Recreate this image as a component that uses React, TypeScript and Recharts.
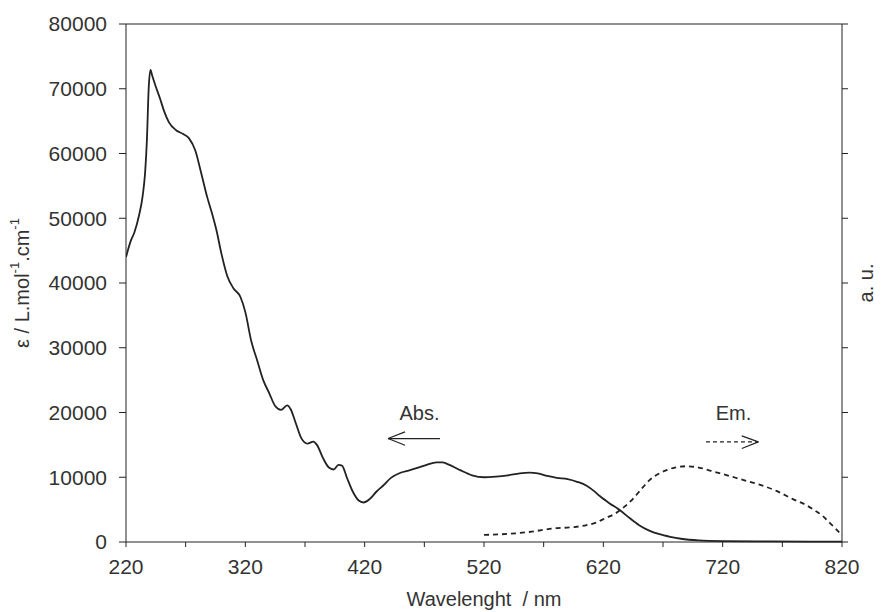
import React from 'react';
import { LineChart, Line, XAxis, YAxis, ReferenceLine, ReferenceDot } from 'recharts';

// Absorption spectrum (wavelength nm, epsilon L/mol/cm)
const absWavelengths = [
  220, 224, 227, 231, 234, 236, 237.5, 239, 240.5, 242, 245, 248.5, 252, 256, 262, 268, 273, 278,
  283, 288, 292, 296, 300, 305, 310, 316, 320, 325, 330, 335, 340, 345, 350, 355, 358, 362, 367,
  372, 377, 380, 385, 390, 394, 398, 401, 405, 410, 415, 419, 424, 430, 436, 442, 450, 458, 465,
  472, 480, 485, 490, 500, 510, 520, 530, 540, 550, 558, 565, 573, 581, 590, 598, 606, 612, 617,
  625, 634, 642, 650, 658, 667, 676, 685, 700, 720, 760, 820,
];
const absValues = [
  44000, 46500, 47800, 50500, 53500, 57000, 62000, 70000, 72900, 72000, 70300, 68500, 66500, 64800,
  63600, 63000, 62300, 60500, 57000, 53300, 50800, 48000, 44500, 41000, 39200, 37800, 35500, 31000,
  28000, 25000, 23000, 21000, 20400, 21100, 20500, 18500, 16000, 15200, 15500, 15000, 13000, 11500,
  11200, 11900, 11800, 10000, 7800, 6400, 6100, 6600, 7800, 8800, 9900, 10700, 11100, 11500, 11900,
  12300, 12300, 12000, 11100, 10300, 10000, 10100, 10300, 10600, 10700, 10600, 10200, 9900, 9700,
  9300, 8700, 7900, 7100, 6000, 4900, 3700, 2600, 1800, 1200, 800, 500, 250, 150, 100, 50,
];

// Emission spectrum (arbitrary units, drawn on the right axis)
const emWavelengths = [
  520, 540, 560, 578, 595, 606, 614, 622, 630, 638, 645, 652, 659, 666, 673, 680, 690, 700, 710,
  720, 735, 750, 765, 778, 790, 797, 804, 810, 815, 820,
];
const emValues = [
  1100, 1250, 1600, 2100, 2300, 2600, 3000, 3700, 4400, 5500, 6700, 8200, 9600, 10500, 11100,
  11500, 11700, 11500, 11000, 10500, 9700, 8900, 7900, 6700, 5700, 4900, 4000, 2900, 2000, 1000,
];

const xTicks = [220, 270, 320, 370, 420, 470, 520, 570, 620, 670, 720, 770, 820];
const xTickLabels = ['220', '320', '420', '520', '620', '720', '820'];
const yTicks = [0, 10000, 20000, 30000, 40000, 50000, 60000, 70000, 80000];

const absData = absWavelengths.map((x, i) => ({ x, y: absValues[i] }));
const emData = emWavelengths.map((x, i) => ({ x, y: emValues[i] }));

const INK = '#222';
const TEXT = '#333';
const FONT = 'Arial, "Liberation Sans", Helvetica, sans-serif';
const FS = 21;
const TFS = 20;

const YLeftLabel = (props: any) => {
  const vb = props.viewBox || {};
  const cx = 22;
  const cy = vb.y + vb.height / 2;
  return (
    <text
      x={cx}
      y={cy}
      transform={`rotate(-90, ${cx}, ${cy})`}
      textAnchor="middle"
      dominantBaseline="central"
      fontSize={TFS}
      fontFamily={FONT}
      fill={TEXT}
    >
      <tspan>ε / L.mol</tspan>
      <tspan dy={-8} fontSize={13}>-1</tspan>
      <tspan dy={8}>.cm</tspan>
      <tspan dy={-8} fontSize={13}>-1</tspan>
    </text>
  );
};

const YRightLabel = (props: any) => {
  const vb = props.viewBox || {};
  const cx = 866;
  const cy = vb.y + vb.height / 2;
  return (
    <text
      x={cx}
      y={cy}
      transform={`rotate(-90, ${cx}, ${cy})`}
      textAnchor="middle"
      dominantBaseline="central"
      fontSize={TFS}
      fontFamily={FONT}
      fill={TEXT}
    >
      a. u.
    </text>
  );
};

const XLabel = (props: any) => {
  const vb = props.viewBox || {};
  return (
    <text
      x={vb.x + vb.width / 2}
      y={606}
      textAnchor="middle"
      fontSize={TFS}
      fontFamily={FONT}
      fill={TEXT}
      style={{ whiteSpace: 'pre' }}
    >
      {'Wavelenght  / nm'}
    </text>
  );
};

export default function App() {
  return (
    <div style={{ position: 'absolute', left: 0, top: 0, background: '#fff' }}>
      <LineChart width={881} height={612} margin={{ top: 24, right: 0, bottom: 0, left: 0 }}>
        <XAxis
          dataKey="x"
          type="number"
          domain={[220, 820]}
          ticks={xTicks}
          allowDataOverflow
          height={70}
          tickSize={5}
          tickMargin={12}
          stroke={INK}
          tick={{ fill: TEXT, fontSize: FS, fontFamily: FONT }}
          tickFormatter={(v: number) => (xTickLabels.includes(String(v)) ? String(v) : '')}
          label={<XLabel />}
        />
        <YAxis
          yAxisId="left"
          type="number"
          domain={[0, 80000]}
          ticks={yTicks}
          width={126}
          tickSize={7}
          tickMargin={12}
          stroke={INK}
          tick={{ fill: TEXT, fontSize: FS, fontFamily: FONT }}
          label={<YLeftLabel />}
        />
        <YAxis
          yAxisId="right"
          orientation="right"
          type="number"
          domain={[0, 80000]}
          ticks={yTicks}
          width={39}
          tickSize={6}
          stroke={INK}
          tickFormatter={() => ''}
          label={<YRightLabel />}
        />
        <ReferenceLine yAxisId="left" y={80000} stroke={INK} strokeWidth={1} />
        <Line
          yAxisId="left"
          data={absData}
          dataKey="y"
          type="monotone"
          stroke={INK}
          strokeWidth={1.8}
          dot={false}
          isAnimationActive={false}
        />
        <Line
          yAxisId="right"
          data={emData}
          dataKey="y"
          type="monotone"
          stroke={INK}
          strokeWidth={1.8}
          strokeDasharray="5 4"
          dot={false}
          isAnimationActive={false}
        />
        {/* Abs. arrow (pointing left) */}
        <ReferenceLine yAxisId="left" segment={[{ x: 439.6, y: 15980 }, { x: 483.1, y: 15980 }]} stroke={INK} strokeWidth={1.2} />
        <ReferenceLine yAxisId="left" segment={[{ x: 439.6, y: 15980 }, { x: 453.8, y: 17000 }]} stroke={INK} strokeWidth={1.2} />
        <ReferenceLine yAxisId="left" segment={[{ x: 439.6, y: 15980 }, { x: 453.8, y: 14950 }]} stroke={INK} strokeWidth={1.2} />
        <ReferenceDot
          yAxisId="left"
          x={466}
          y={19900}
          r={1}
          fill="none"
          stroke="none"
          label={{ value: 'Abs.', position: 'center', fontSize: TFS, fill: TEXT, fontFamily: FONT }}
        />
        {/* Em. arrow (dashed, pointing right) */}
        <ReferenceLine yAxisId="left" segment={[{ x: 706, y: 15460 }, { x: 749.9, y: 15460 }]} stroke={INK} strokeWidth={1.2} strokeDasharray="4 3" />
        <ReferenceLine yAxisId="left" segment={[{ x: 749.9, y: 15460 }, { x: 736, y: 16380 }]} stroke={INK} strokeWidth={1.2} />
        <ReferenceLine yAxisId="left" segment={[{ x: 749.9, y: 15460 }, { x: 736, y: 14440 }]} stroke={INK} strokeWidth={1.2} />
        <ReferenceDot
          yAxisId="left"
          x={729}
          y={19900}
          r={1}
          fill="none"
          stroke="none"
          label={{ value: 'Em.', position: 'center', fontSize: TFS, fill: TEXT, fontFamily: FONT }}
        />
      </LineChart>
    </div>
  );
}
